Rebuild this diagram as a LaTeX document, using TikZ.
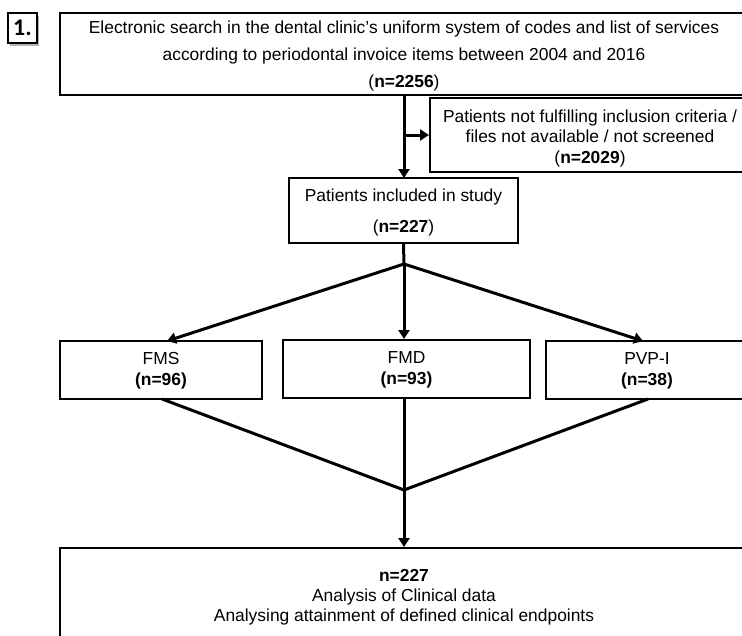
\documentclass[tikz,border=0pt]{standalone}
\usepackage{fontspec}
\setmainfont{Liberation Sans}
\newfontfamily\labelfont{Carlito}
\usetikzlibrary{arrows.meta,shadows}
\begin{document}
\begin{tikzpicture}[x=1pt,y=-1pt,
  box/.style={draw,line width=2pt,inner sep=0pt,fill=white},
  conn/.style={line width=3pt},
  arr/.style={conn,-{Triangle[length=9pt,width=11pt]}},
  txt/.style={font=\fontsize{17.4}{#1}\selectfont,align=center,inner sep=0pt},
  txt/.default={20}]
\useasboundingbox (0,0) rectangle (742,635);
\begin{scope}
\clip (0,0) rectangle (742,635);
% label
\node[draw,line width=1.2pt,fill=white,minimum width=29pt,minimum height=30pt,inner sep=0pt,
  drop shadow={shadow xshift=2pt,shadow yshift=-2.5pt,opacity=0.6}] (lab) at (22.5,28)
  {\labelfont\bfseries\fontsize{24}{26}\selectfont 1.};
% boxes
\node[box,minimum width=688pt,minimum height=82pt] (top) at (404,54) {};
\node[txt=27] (toptxt) at (404,55.5) {Electronic search in the dental clinic's uniform system of codes and list of services\\according to periodontal invoice items between 2004 and 2016\\(\textbf{n=2256})};
\node[box,minimum width=320pt,minimum height=74pt] (excl) at (590,135) {};
\node[txt=20.5] (excltxt) at (590,138) {Patients not fulfilling inclusion criteria /\\files not available / not screened\\(\textbf{n=2029})};
\node[box,minimum width=229pt,minimum height=65pt] (pat) at (403.5,210.5) {};
\node[txt=31] (pattxt) at (403.5,212) {Patients included in study\\(\textbf{n=227})};
\node[box,minimum width=202pt,minimum height=58pt] (fms) at (161,370) {};
\node[txt=21] (fmstxt) at (161,371) {FMS\\\textbf{(n=96)}};
\node[box,minimum width=247pt,minimum height=58pt] (fmd) at (406.5,369) {};
\node[txt=21] (fmdtxt) at (406.5,370) {FMD\\\textbf{(n=93)}};
\node[box,minimum width=202pt,minimum height=58pt] (pvp) at (647,370) {};
\node[txt=21] (pvptxt) at (647,371) {PVP-I\\\textbf{(n=38)}};
\node[box,minimum width=688pt,minimum height=120pt] (res) at (404,608) {};
\node[txt] (restxt) at (404,597) {\textbf{n=227}\\Analysis of Clinical data\\Analysing attainment of defined clinical endpoints};
% connectors
\coordinate (m1) at (404,135);
\coordinate (b1) at (404,264);
\coordinate (b2) at (404,490);
\draw[arr] (top.south -| pat.north) ++(0.5,0) -- (404,178);
\draw[arr] (m1) -- (excl.west |- m1);
\draw[conn] (pat.south) -- (b1);
\draw[arr] (b1) -- (167,341);
\draw[arr] (b1) -- (fmd.north -| b1);
\draw[arr] (b1) -- (643,341);
\draw[conn] (162,399) -- (b2) -- (648,399);
\draw[arr] (fmd.south -| b2) -- (res.north -| b2);
\end{scope}
\end{tikzpicture}
\end{document}
